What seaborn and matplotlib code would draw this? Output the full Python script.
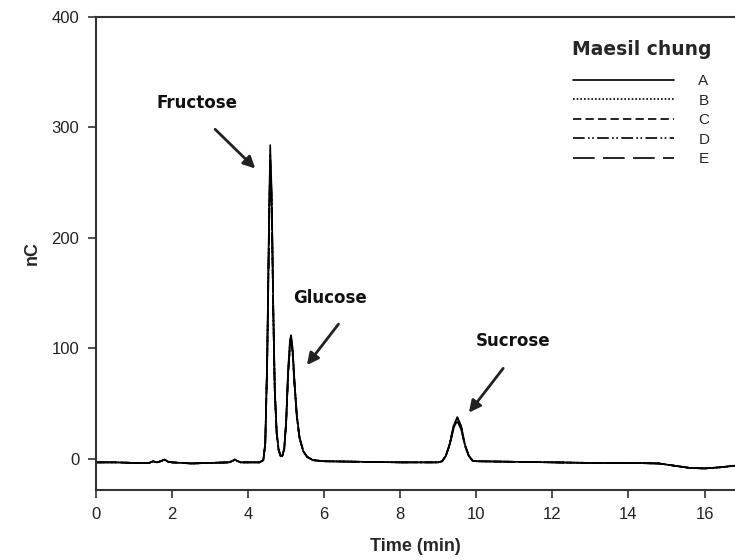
import numpy as np
import pandas as pd
import matplotlib
matplotlib.use("Agg")
import matplotlib.pyplot as plt
import seaborn as sns

# ---- data ----
time_min = [0, 0.5, 1.0, 1.4, 1.5, 1.6, 1.7, 1.8, 1.9, 2.0,
            2.5, 3.0, 3.5, 3.6, 3.65, 3.7, 3.8, 4.0, 4.3, 4.4,
            4.45, 4.5, 4.55, 4.58, 4.62, 4.66, 4.7, 4.75, 4.8, 4.85,
            4.9, 4.95, 5.0, 5.05, 5.1, 5.13, 5.17, 5.22, 5.28, 5.35,
            5.45, 5.55, 5.7, 6.0, 7.0, 8.0, 9.0, 9.1, 9.2, 9.3,
            9.4, 9.5, 9.6, 9.7, 9.8, 9.9, 10.0, 11.0, 12.0, 13.0,
            14.0, 14.8, 15.2, 15.6, 16.0, 16.4, 16.8]

sample_A = [-3, -3, -3.5, -3.5, -2, -3, -2, -0.5, -2.5, -3,
            -4, -3.5, -3, -1.5, -0.5, -1.5, -3, -3, -3, -1,
            15, 90, 220, 284, 240, 140, 65, 25, 9, 3,
            3, 10, 35, 80, 108, 112, 100, 70, 40, 20,
            7, 2, -1, -2, -2.5, -3, -3, -2, 3, 14,
            30, 38, 30, 13, 3, -1.5, -2, -2.5, -3, -3.5,
            -3.5, -4, -6, -8, -8.5, -7.5, -6]
sample_B = [-3, -3, -3.5, -3.5, -2, -3, -2, -0.5, -2.5, -3,
            -4, -3.5, -3, -1.5, -0.5, -1.5, -3, -3, -3, -1,
            14, 86, 210, 270, 232, 135, 62, 24, 9, 3,
            3, 10, 34, 77, 104, 108, 97, 68, 39, 19,
            7, 2, -1, -2, -2.5, -3, -3, -2, 3, 13,
            29, 36, 29, 12, 3, -1.5, -2, -2.5, -3, -3.5,
            -3.5, -4, -6, -8, -8.5, -7.5, -6]
sample_C = [-3, -3, -3.5, -3.5, -2, -3, -2, -0.5, -2.5, -3,
            -4, -3.5, -3, -1.5, -0.5, -1.5, -3, -3, -3, -1,
            13, 84, 205, 262, 228, 132, 60, 23, 8, 3,
            3, 9, 33, 75, 101, 105, 95, 66, 38, 19,
            7, 2, -1, -2, -2.5, -3, -3, -2, 3, 13,
            28, 35, 28, 12, 3, -1.5, -2, -2.5, -3, -3.5,
            -3.5, -4, -6, -8, -8.5, -7.5, -6]
sample_D = [-3, -3, -3.5, -3.5, -2, -3, -2, -0.5, -2.5, -3,
            -4, -3.5, -3, -1.5, -0.5, -1.5, -3, -3, -3, -1,
            15, 88, 215, 276, 236, 137, 63, 24, 9, 3,
            3, 10, 34, 78, 106, 110, 98, 69, 39, 20,
            7, 2, -1, -2, -2.5, -3, -3, -2, 3, 14,
            29, 37, 29, 13, 3, -1.5, -2, -2.5, -3, -3.5,
            -3.5, -4, -6, -8, -8.5, -7.5, -6]
sample_E = [-3, -3, -3.5, -3.5, -2, -3, -2, -0.5, -2.5, -3,
            -4, -3.5, -3, -1.5, -0.5, -1.5, -3, -3, -3, -1,
            14, 85, 208, 266, 230, 134, 61, 23, 8, 3,
            3, 9, 33, 76, 102, 106, 96, 67, 38, 19,
            7, 2, -1, -2, -2.5, -3, -3, -2, 3, 13,
            27, 34, 27, 12, 3, -1.5, -2, -2.5, -3, -3.5,
            -3.5, -4, -6, -8, -8.5, -7.5, -6]

sample_names = ["A", "B", "C", "D", "E"]
x_ticks = [0, 2, 4, 6, 8, 10, 12, 14, 16]
y_ticks = [0, 100, 200, 300, 400]

series = dict(zip(sample_names, [sample_A, sample_B, sample_C, sample_D, sample_E]))
df = pd.concat([pd.DataFrame({"time": time_min, "nC": v, "sample": k})
                for k, v in series.items()], ignore_index=True)

sns.set_style("white")
plt.rcParams["font.family"] = ["Liberation Sans", "DejaVu Sans"]

fig = plt.figure(figsize=(7.35, 5.6), dpi=100)
ax = fig.add_axes([0.1306, 0.125, 0.8694, 0.845])

dashes = {"A": "", "B": (1, 1.2), "C": (5, 2.5),
          "D": (7, 2, 1, 1.5, 1, 2), "E": (13, 5)}
sns.lineplot(data=df, x="time", y="nC", style="sample", dashes=dashes,
             color="black", linewidth=1.2, ax=ax, sort=False, estimator=None)

ax.set_xlim(0, 16.8)
ax.set_ylim(-28, 400)
ax.set_xticks(x_ticks)
ax.set_yticks(y_ticks)
ax.tick_params(axis="both", direction="out", length=6, width=1.2,
               color="#333333", labelsize=12, labelcolor="#222222", pad=6,
               left=True, bottom=True)
for s in ["left", "bottom", "top"]:
    ax.spines[s].set_color("#333333")
    ax.spines[s].set_linewidth(1.5)
ax.spines["right"].set_visible(False)

ax.set_xlabel("Time (min)", fontsize=13, fontweight="bold", labelpad=12)
ax.set_ylabel("nC", fontsize=13, fontweight="bold", labelpad=8)

ann = dict(fontsize=12, fontweight="bold", family="DejaVu Sans",
           ha="center", va="center", color="#111111")
arrow = dict(arrowstyle="-|>,head_length=0.7,head_width=0.35", color="#222222", lw=2)
ax.annotate("", xy=(4.24, 261), xytext=(3.08, 300), arrowprops=arrow)
ax.text(2.66, 322, "Fructose", **ann)
ax.annotate("", xy=(5.5, 83), xytext=(6.42, 124), arrowprops=arrow)
ax.text(6.16, 146, "Glucose", **ann)
ax.annotate("", xy=(9.76, 40), xytext=(10.75, 84), arrowprops=arrow)
ax.text(10.97, 107, "Sucrose", **ann)

handles, labels = ax.get_legend_handles_labels()
leg = ax.legend(handles, labels, loc="upper right", bbox_to_anchor=(0.984, 0.979),
                frameon=False, fontsize=11, handlelength=6.6, handletextpad=1.6,
                labelspacing=0.36, title="Maesil chung",
                title_fontproperties={"weight": "bold", "size": 13.5,
                                      "family": "DejaVu Sans"})
leg._legend_box.align = "center"
leg._legend_box.sep = 10.5

fig.savefig("out.png", dpi=100)
